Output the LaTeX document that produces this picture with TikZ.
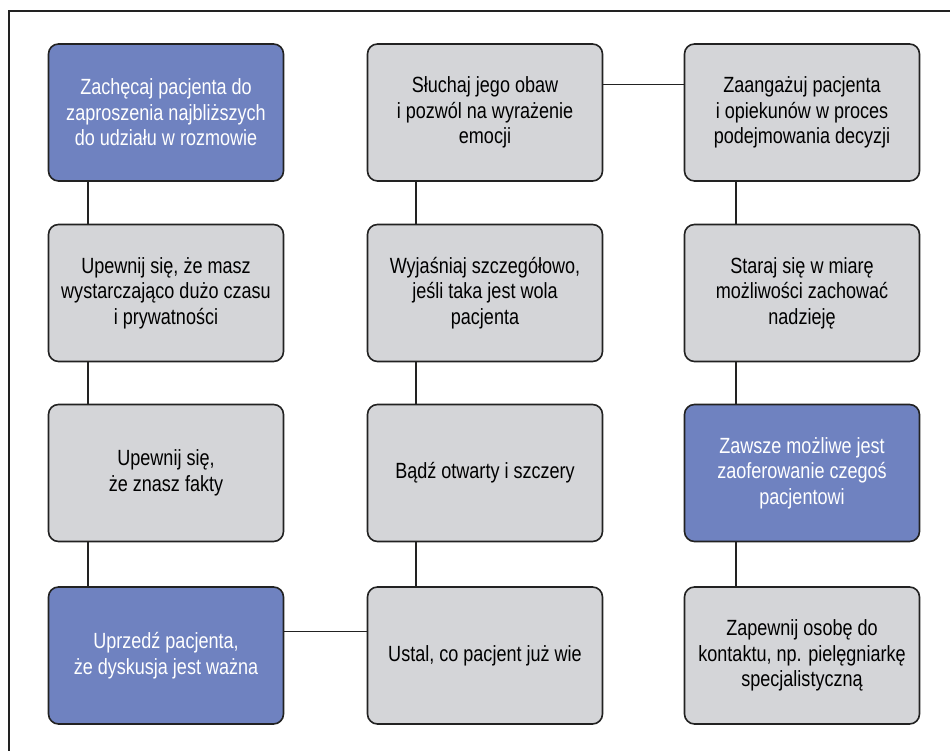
\documentclass[tikz,border=0pt]{standalone}
\usepackage{fontspec}
\setmainfont{Liberation Sans}[FakeStretch=0.82]
\usepackage{tikz}
\definecolor{boxblue}{HTML}{6F82C0}
\definecolor{boxgray}{HTML}{D4D5D8}
\definecolor{edge}{HTML}{222222}

\begin{document}
\begin{tikzpicture}
[
x=1pt,y=1pt,
step box/.style={draw=edge,line width=1.6pt,rounded corners=10pt,
            minimum width=235pt,minimum height=137pt,align=center,
            font=\fontsize{22}{25.5}\selectfont},
grey step/.style={step box,fill=boxgray,text=black},
blue step/.style={step box,fill=boxblue,text=white},
link/.style={draw=edge,line width=1.4pt},
]
\useasboundingbox (0,0) rectangle (950,751);
\draw[line width=1.8pt,edge] (9,0) -- (9,740) -- (950,740);

%Place the nodes
\node[blue step] (a1) at (166,638.5) {Zachęcaj pacjenta do\\zaproszenia najbliższych\\do udziału w rozmowie};
\node[grey step] (a2) at (166,458) {Upewnij się, że masz\\wystarczająco dużo czasu\\i prywatności};
\node[grey step] (a3) at (166,278) {Upewnij się,\\że znasz fakty};
\node[blue step] (a4) at (166,95.5) {Uprzedź pacjenta,\\że dyskusja jest ważna};
\node[grey step] (b1) at (485,638.5) {Słuchaj jego obaw\\i pozwól na wyrażenie\\emocji};
\node[grey step] (b2) at (485,458) {Wyjaśniaj szczegółowo,\\jeśli taka jest wola\\pacjenta};
\node[grey step] (b3) at (485,278) {Bądź otwarty i szczery};
\node[grey step] (b4) at (485,95.5) {Ustal, co pacjent już wie};
\node[grey step] (c1) at (802,638.5) {Zaangażuj pacjenta\\i opiekunów w proces\\podejmowania decyzji};
\node[grey step] (c2) at (802,458) {Staraj się w miarę\\możliwości zachować\\nadzieję};
\node[blue step] (c3) at (802,278) {Zawsze możliwe jest\\zaoferowanie czegoś\\pacjentowi};
\node[grey step] (c4) at (802,95.5) {Zapewnij osobę do\\kontaktu, np. pielęgniarkę\\specjalistyczną};

%Draw the connections
\draw[link] ([xshift=-78pt]a1.south) -- ([xshift=-78pt]a2.north);
\draw[link] ([xshift=-78pt]a2.south) -- ([xshift=-78pt]a3.north);
\draw[link] ([xshift=-78pt]a3.south) -- ([xshift=-78pt]a4.north);
\draw[link] ([yshift=24pt]a4.east) -- ([yshift=24pt]b4.west);
\draw[link] ([xshift=-69pt]b4.north) -- ([xshift=-69pt]b3.south);
\draw[link] ([xshift=-69pt]b3.north) -- ([xshift=-69pt]b2.south);
\draw[link] ([xshift=-69pt]b2.north) -- ([xshift=-69pt]b1.south);
\draw[link] ([yshift=28pt]b1.east) -- ([yshift=28pt]c1.west);
\draw[link] ([xshift=-66pt]c1.south) -- ([xshift=-66pt]c2.north);
\draw[link] ([xshift=-66pt]c2.south) -- ([xshift=-66pt]c3.north);
\draw[link] ([xshift=-66pt]c3.south) -- ([xshift=-66pt]c4.north);
\end{tikzpicture}
\end{document}
